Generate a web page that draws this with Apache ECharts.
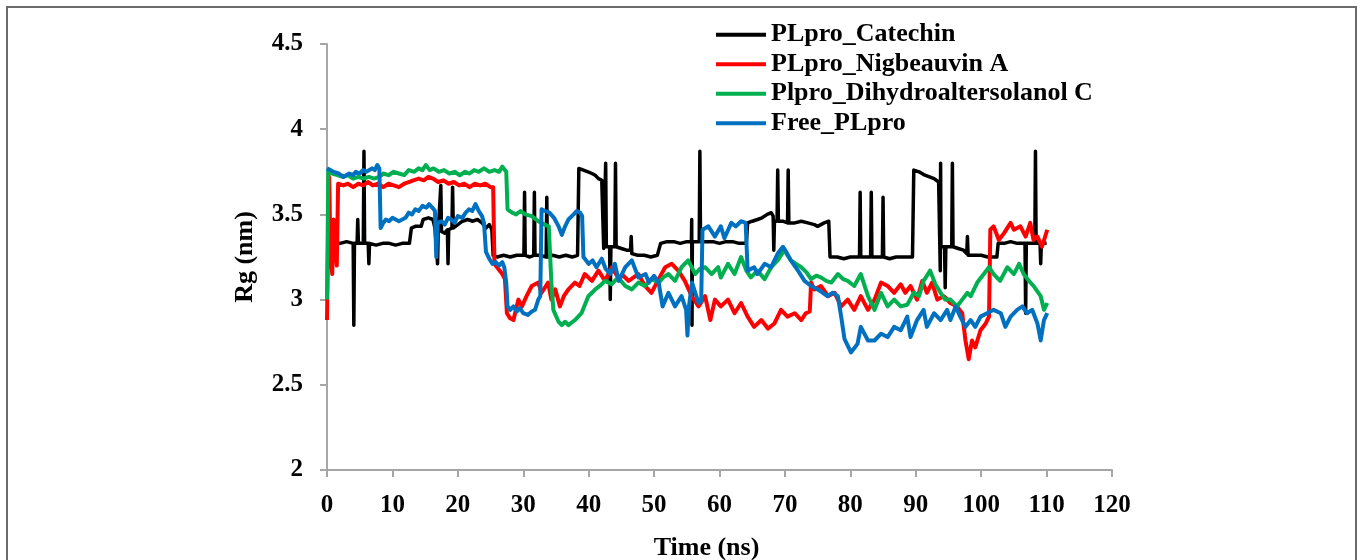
<!DOCTYPE html>
<html>
<head>
<meta charset="utf-8">
<script src="https://cdn.jsdelivr.net/npm/echarts@6/dist/echarts.min.js"></script>
<style>
  html, body { margin: 0; padding: 0; background: #fff; }
  #main { width: 1360px; height: 560px; }
</style>
</head>
<body>
<div id="main"></div>
<script>
var xTicks = [0, 10, 20, 30, 40, 50, 60, 70, 80, 90, 100, 110, 120];
var yTicks = [2, 2.5, 3, 3.5, 4, 4.5];
var seriesNames = ['PLpro_Catechin', 'PLpro_Nigbeauvin A', 'Plpro_Dihydroaltersolanol C', 'Free_PLpro'];

// [time (ns), Rg (nm)]
var catechin = [
  [0,3.32],[1,3.33],[2,3.33],[3,3.34],[4.0,3.33],[4.1,2.85],[4.2,3.33],[4.6,3.33],[4.7,3.47],[4.8,3.33],
  [5.55,3.33],[5.65,3.87],[5.75,3.33],[6.3,3.33],[6.4,3.21],[6.5,3.33],[7.5,3.32],[8.5,3.33],[9.5,3.33],
  [10.5,3.32],[11.5,3.33],[12.6,3.33],[12.9,3.42],[13.5,3.43],[14.4,3.43],[14.7,3.47],[15.5,3.48],[16.2,3.47],
  [16.5,3.42],[16.8,3.41],[16.9,3.21],[17.0,3.40],[17.3,3.40],[17.4,3.67],[17.5,3.40],[18.0,3.39],[18.4,3.41],
  [18.5,3.21],[18.6,3.41],[19.1,3.42],[19.2,3.66],[19.3,3.42],[20,3.44],[20.7,3.46],[21.5,3.47],[22.3,3.46],
  [23,3.47],[23.7,3.45],[24.3,3.42],[24.8,3.44],[25.2,3.41],[25.4,3.26],[26,3.25],[27,3.26],[28,3.25],[29,3.26],
  [29.5,3.26],[30.1,3.26],[30.2,3.63],[30.3,3.26],[31,3.25],[31.6,3.26],[31.7,3.63],[31.8,3.26],[32.5,3.26],
  [33.5,3.25],[33.6,3.60],[33.7,3.25],[34.5,3.26],[35.5,3.25],[36.5,3.26],[37.5,3.25],[38.3,3.26],[38.5,3.77],
  [39.2,3.76],[39.9,3.75],[40.5,3.74],[41.0,3.73],[41.5,3.71],[42.0,3.70],[42.2,3.69],[42.3,3.30],[42.5,3.31],
  [42.6,3.80],[42.7,3.31],[43.2,3.31],[43.3,3.0],[43.4,3.31],[44.0,3.31],[44.1,3.80],[44.2,3.31],[45,3.30],
  [45.8,3.29],[46.4,3.29],[46.5,3.37],[46.6,3.27],[47.5,3.26],[48.5,3.26],[49.5,3.25],[50.5,3.26],[50.8,3.26],
  [51.0,3.33],[52,3.34],[53,3.34],[54,3.33],[55,3.34],[55.7,3.34],[55.75,3.47],[55.8,2.85],[55.85,3.34],
  [56.9,3.34],[57.0,3.87],[57.1,3.34],[58,3.34],[59,3.34],[60,3.33],[61,3.34],[62,3.34],[63,3.33],[64.1,3.33],
  [64.3,3.45],[65,3.46],[65.8,3.47],[66.5,3.48],[67.3,3.50],[67.9,3.51],[68.2,3.49],[68.3,3.29],[68.4,3.46],
  [68.8,3.46],[68.9,3.76],[69.0,3.46],[69.7,3.46],[70.4,3.45],[70.5,3.76],[70.6,3.45],[71.5,3.45],[72.5,3.46],
  [73.5,3.45],[74.5,3.44],[75.0,3.43],[76.0,3.45],[76.7,3.46],[76.9,3.25],[78,3.25],[79,3.24],[80,3.25],
  [81.4,3.25],[81.5,3.63],[81.6,3.25],[83.1,3.25],[83.2,3.63],[83.3,3.25],[84.9,3.25],[85.0,3.60],[85.1,3.25],
  [86,3.24],[87,3.25],[88,3.25],[89.5,3.25],[89.7,3.76],[90.5,3.75],[91.4,3.73],[92.1,3.72],[92.8,3.71],
  [93.5,3.69],[93.7,3.69],[93.75,3.17],[93.8,3.80],[93.85,3.31],[94.4,3.31],[94.5,3.07],[94.6,3.31],[95.5,3.31],
  [95.6,3.80],[95.7,3.31],[96.5,3.30],[97.3,3.29],[97.8,3.27],[97.9,3.37],[98.0,3.26],[99,3.26],[100,3.26],
  [101,3.25],[102,3.25],[102.4,3.25],[102.6,3.33],[103.5,3.33],[104.5,3.34],[105.5,3.33],[106.7,3.33],
  [106.8,2.92],[106.9,3.33],[108.2,3.33],[108.3,3.87],[108.4,3.33],[109.0,3.33],[109.1,3.21],[109.2,3.33],[110,3.33]
];

var nigbeauvin = [
  [0,2.88],[0.2,3.45],[0.35,3.72],[0.5,3.30],[0.8,3.15],[1.0,3.47],[1.3,3.47],[1.5,3.20],[1.7,3.68],[2.5,3.67],
  [3.2,3.68],[4,3.66],[4.8,3.68],[5.5,3.67],[6.3,3.69],[7,3.67],[7.8,3.68],[8.6,3.66],[9.4,3.68],[10.2,3.67],
  [11,3.66],[11.8,3.68],[12.5,3.69],[13.2,3.70],[14,3.71],[14.8,3.70],[15.5,3.72],[16.2,3.71],[17,3.69],
  [17.8,3.70],[18.6,3.68],[19.4,3.69],[20.2,3.67],[21,3.68],[21.8,3.66],[22.6,3.68],[23.4,3.67],[24.2,3.68],
  [25,3.66],[25.4,3.66],[25.6,3.21],[26.2,3.18],[26.8,3.15],[27.2,3.12],[27.5,2.92],[28,2.89],[28.5,2.88],
  [29.25,3.0],[29.8,2.96],[30.5,3.02],[31.3,3.08],[32.3,3.10],[32.8,3.04],[33.8,3.10],[34.3,3.0],[34.9,3.06],
  [35.6,2.96],[36.2,3.02],[36.9,3.06],[37.9,3.10],[38.6,3.08],[39.4,3.15],[40.5,3.11],[41.5,3.17],[42.5,3.11],
  [43.5,3.19],[44.5,3.13],[45.3,3.14],[46.1,3.11],[47.6,3.15],[48.6,3.08],[49.6,3.04],[50.7,3.12],[51.7,3.19],
  [52.7,3.21],[53.7,3.17],[54.7,3.11],[55.75,3.02],[56.8,2.96],[57.8,3.02],[58.6,2.88],[59.3,3.0],[60.2,2.96],
  [61.3,3.0],[62.3,2.92],[63.3,2.98],[64.3,2.90],[65.3,2.84],[66.4,2.88],[67.4,2.83],[68.4,2.86],[69.4,2.94],
  [70.4,2.90],[71.5,2.92],[72.5,2.88],[73.2,2.92],[73.8,2.93],[74.0,3.10],[74.5,3.06],[75.5,3.08],[76.6,3.02],
  [77.6,3.04],[78.6,2.96],[79.6,3.0],[80.6,2.94],[81.6,3.02],[82.7,2.94],[83.7,3.0],[84.7,3.10],[85.7,3.08],
  [86.7,3.04],[87.7,3.09],[88.4,3.04],[89.2,3.08],[89.7,3.04],[90.2,3.0],[91.0,3.11],[91.7,3.04],[92.5,3.10],
  [93.3,3.0],[94.3,3.02],[95.3,2.98],[96.3,2.96],[97.1,2.92],[97.6,2.76],[98.1,2.65],[98.6,2.76],[99.1,2.72],
  [99.9,2.82],[100.7,2.86],[101.2,2.90],[101.4,3.41],[101.9,3.43],[102.7,3.35],[103.5,3.39],[104.5,3.45],
  [105.0,3.41],[106.0,3.43],[106.8,3.37],[107.5,3.45],[108.0,3.35],[108.6,3.37],[109.3,3.31],[110.1,3.41]
];

var dihydro = [
  [0,3.0],[0.2,3.76],[0.8,3.74],[1.6,3.73],[2.4,3.72],[3.2,3.73],[4,3.71],[4.8,3.72],[5.6,3.71],[6.4,3.72],
  [7.2,3.71],[8,3.72],[8.6,3.74],[9.4,3.73],[10.2,3.75],[11,3.74],[11.8,3.73],[12.5,3.76],[13.3,3.75],[14,3.77],
  [14.6,3.76],[15.1,3.79],[15.7,3.76],[16.3,3.77],[17.1,3.75],[17.9,3.76],[18.7,3.74],[19.5,3.75],[20.3,3.73],
  [21.1,3.75],[21.8,3.74],[22.5,3.76],[23.2,3.75],[24,3.77],[24.8,3.75],[25.6,3.76],[26.3,3.75],[26.8,3.78],
  [27.4,3.75],[27.6,3.53],[28.3,3.51],[28.9,3.50],[29.6,3.52],[30.3,3.50],[31.3,3.49],[32.3,3.46],[33.3,3.44],
  [33.9,3.43],[34.3,3.10],[34.6,2.94],[35.4,2.87],[35.9,2.85],[36.4,2.87],[36.9,2.85],[37.9,2.88],[38.9,2.92],
  [39.95,3.02],[40.5,3.04],[41.0,3.06],[41.7,3.08],[42.5,3.11],[43.5,3.09],[44.5,3.13],[45.6,3.08],[46.6,3.06],
  [47.6,3.10],[48.6,3.08],[49.6,3.12],[50.7,3.10],[51.4,3.13],[52.2,3.15],[53.2,3.11],[54.2,3.19],[55.2,3.23],
  [56.3,3.15],[57.0,3.18],[57.8,3.19],[58.8,3.15],[59.8,3.19],[60.2,3.13],[61.3,3.21],[62.3,3.15],[63.3,3.25],
  [64.1,3.17],[64.8,3.13],[65.8,3.17],[66.9,3.12],[67.9,3.19],[68.9,3.23],[69.9,3.29],[70.9,3.23],[71.7,3.21],
  [72.5,3.19],[73.3,3.16],[74.0,3.12],[74.8,3.14],[75.5,3.13],[76.3,3.11],[77.1,3.10],[78.1,3.15],[78.9,3.12],
  [79.6,3.11],[80.6,3.08],[81.6,3.15],[82.7,3.02],[83.7,2.94],[84.7,3.04],[85.7,2.96],[86.7,3.00],[87.7,2.96],
  [88.7,2.97],[89.7,3.04],[90.5,3.02],[91.2,3.11],[92.2,3.17],[93.0,3.09],[93.8,3.04],[94.5,3.00],[95.3,3.00],
  [96.3,2.96],[97.1,3.00],[97.9,3.04],[98.4,3.02],[99.4,3.10],[100.4,3.15],[101.2,3.19],[101.9,3.15],
  [102.9,3.11],[104.0,3.19],[105.0,3.15],[105.8,3.21],[106.5,3.15],[107.3,3.11],[108.0,3.08],[109.1,3.02],
  [109.6,2.94],[110.1,2.98]
];

var freePLpro = [
  [0,3.77],[0.5,3.76],[1,3.75],[1.8,3.74],[2.5,3.72],[3.4,3.74],[4,3.73],[4.4,3.75],[5,3.74],[5.5,3.76],
  [6,3.75],[6.9,3.77],[7.3,3.76],[7.7,3.79],[8.0,3.77],[8.2,3.42],[8.6,3.45],[9,3.47],[9.5,3.46],[10,3.48],
  [10.5,3.47],[11,3.46],[11.3,3.45],[12,3.48],[12.5,3.51],[13,3.50],[13.5,3.53],[14,3.52],[14.6,3.55],
  [15.2,3.54],[15.6,3.56],[16.1,3.54],[16.5,3.52],[16.7,3.25],[16.9,3.45],[17.5,3.46],[18,3.44],[18.5,3.48],
  [19,3.47],[19.5,3.45],[20,3.49],[20.7,3.48],[21.2,3.51],[21.7,3.53],[22.2,3.52],[22.7,3.56],[23.2,3.52],
  [23.7,3.49],[24.0,3.45],[24.3,3.28],[24.8,3.24],[25.3,3.21],[25.8,3.22],[26.3,3.20],[26.8,3.22],[27.1,3.19],
  [27.4,3.10],[27.6,2.96],[28,2.94],[28.5,2.96],[29,2.93],[29.5,2.95],[30,2.92],[30.7,2.91],[31.3,2.93],
  [31.8,2.94],[32.3,3.0],[32.6,3.02],[32.8,3.53],[33.3,3.52],[34,3.51],[34.7,3.48],[35.4,3.43],[35.9,3.38],
  [36.4,3.43],[36.9,3.47],[37.7,3.50],[38.2,3.52],[38.7,3.51],[39.0,3.49],[39.2,3.25],[40,3.21],[40.6,3.23],
  [41.2,3.19],[42,3.24],[42.6,3.18],[43.3,3.15],[44,3.21],[44.6,3.11],[45.6,3.19],[46.6,3.23],[47.6,3.13],
  [48.7,3.15],[49.2,3.10],[50,3.14],[50.7,3.10],[51.3,2.96],[52.2,3.04],[53.2,2.96],[54.2,3.02],[54.9,2.94],
  [55.1,2.79],[55.3,2.95],[55.8,3.10],[56.8,2.98],[57.2,2.99],[57.4,3.41],[58.3,3.43],[59.3,3.37],[60.2,3.43],
  [60.75,3.36],[61.8,3.45],[62.5,3.43],[63.3,3.46],[64.0,3.45],[64.3,3.17],[65.3,3.19],[65.8,3.15],[66.9,3.21],
  [67.9,3.19],[68.9,3.27],[69.7,3.31],[70.2,3.28],[70.9,3.23],[72.0,3.17],[73.0,3.11],[74.0,3.08],[75.0,3.06],
  [75.8,3.04],[76.5,3.02],[77.3,3.04],[78.1,3.02],[78.6,2.90],[79.1,2.77],[80.1,2.69],[81.1,2.74],[81.6,2.84],
  [82.7,2.76],[83.7,2.76],[84.7,2.80],[85.7,2.78],[86.7,2.84],[87.7,2.82],[88.7,2.90],[89.2,2.78],[90.2,2.88],
  [91.2,2.94],[91.7,2.84],[92.8,2.92],[93.8,2.88],[94.8,2.94],[95.3,2.88],[96.1,2.96],[96.8,2.90],[97.6,2.84],
  [98.4,2.88],[99.1,2.84],[99.9,2.90],[100.9,2.92],[101.9,2.94],[103.0,2.92],[103.7,2.84],[104.5,2.90],
  [105.5,2.94],[106.3,2.96],[107.0,2.92],[107.8,2.94],[108.6,2.86],[109.1,2.76],[109.6,2.88],[110.1,2.92]
];

var seriesData = [catechin, nigbeauvin, dihydro, freePLpro];
var seriesColors = ['#000000', '#ff0000', '#00b050', '#0070c0'];

var dom = document.getElementById('main');
var myChart = echarts.init(dom);
var fontFam = '"Liberation Serif", "Times New Roman", serif';

var option = {
    animation: false,
    backgroundColor: '#ffffff',
    graphic: [{
        type: 'rect',
        shape: { x: 7, y: 7, width: 1349, height: 600 },
        style: { fill: 'none', stroke: '#6b6b6b', lineWidth: 2 }
    }],
    grid: { left: 327, right: 248, top: 44, bottom: 90, outerBoundsMode: 'none', containLabel: false },
    legend: {
        orient: 'vertical',
        left: 711,
        top: 15,
        icon: 'rect',
        itemWidth: 50,
        itemHeight: 4,
        itemGap: 0,
        textStyle: { fontFamily: fontFam, fontWeight: 'bold', fontSize: 26, color: '#000', lineHeight: 29.5 },
        data: seriesNames
    },
    xAxis: {
        type: 'value',
        min: xTicks[0],
        max: xTicks[xTicks.length - 1],
        interval: 10,
        name: 'Time (ns)',
        nameLocation: 'middle',
        nameGap: 65,
        nameTextStyle: { fontFamily: fontFam, fontWeight: 'bold', fontSize: 26, color: '#000', padding: [0, 26, 0, 0] },
        axisLine: { lineStyle: { color: '#a6a6a6', width: 2 } },
        axisTick: { show: true, length: 7, lineStyle: { color: '#a6a6a6', width: 2 } },
        axisLabel: { margin: 23, fontFamily: fontFam, fontWeight: 'bold', fontSize: 25, color: '#000' },
        splitLine: { show: false }
    },
    yAxis: {
        type: 'value',
        min: yTicks[0],
        max: yTicks[yTicks.length - 1],
        interval: 0.5,
        name: 'Rg (nm)',
        nameLocation: 'middle',
        nameGap: 69,
        nameTextStyle: { fontFamily: fontFam, fontWeight: 'bold', fontSize: 26, color: '#000' },
        axisLine: { show: true, lineStyle: { color: '#a6a6a6', width: 2 } },
        axisTick: { show: true, length: 7, lineStyle: { color: '#a6a6a6', width: 2 } },
        axisLabel: { margin: 24, fontFamily: fontFam, fontWeight: 'bold', fontSize: 25, color: '#000' },
        splitLine: { show: false }
    },
    series: seriesNames.map(function (name, i) {
        return {
            name: name,
            type: 'line',
            data: seriesData[i],
            showSymbol: false,
            symbol: 'none',
            color: seriesColors[i],
            lineStyle: { color: seriesColors[i], width: i === 0 ? 3.5 : 4, join: 'round' },
            z: i === 0 ? 1 : 2 + i
        };
    })
};

if (option && typeof option === "object") {
    myChart.setOption(option, true);
}
</script>
</body>
</html>
